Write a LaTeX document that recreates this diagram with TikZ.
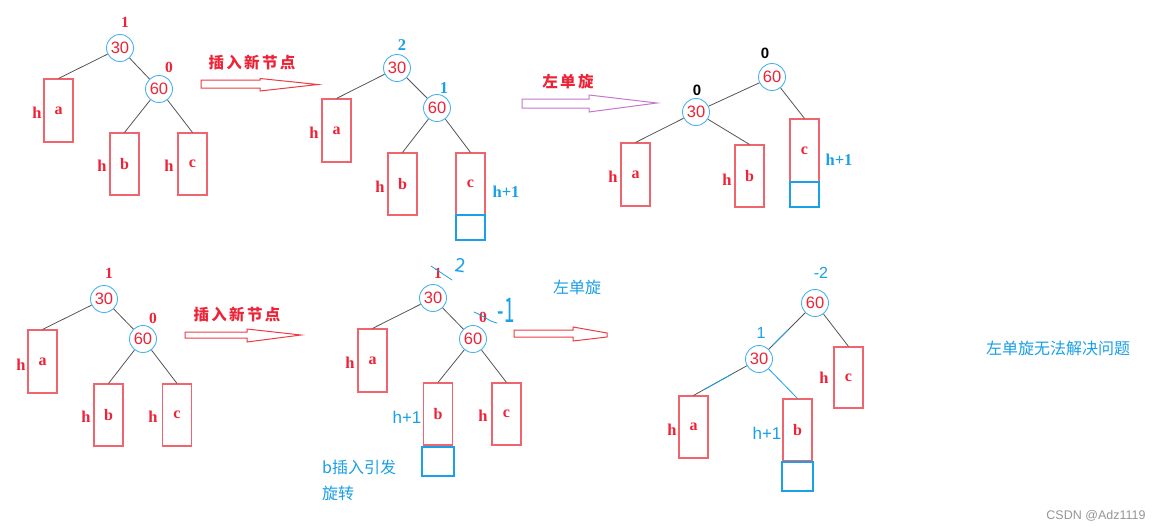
\documentclass[tikz,border=0pt]{standalone}
\usepackage{fontspec}
\usepackage{graphicx}
\setmainfont{Liberation Serif}
\setsansfont{Liberation Sans}
\newfontfamily\cjk{Noto Sans CJK SC}
\newfontfamily\cjksp[LetterSpace=15]{Noto Sans CJK SC}
\definecolor{tred}{RGB}{237,35,55}
\definecolor{boxred}{RGB}{240,100,110}
\definecolor{circblue}{RGB}{75,180,235}
\definecolor{tblue}{RGB}{25,160,230}
\definecolor{arrpurple}{RGB}{195,120,205}
\definecolor{arrred}{RGB}{235,60,70}
\definecolor{edgegray}{RGB}{85,85,85}
\definecolor{csdngray}{RGB}{150,150,150}
\begin{document}
\begin{tikzpicture}[x=1pt,y=-1pt,
  circ/.style={circle, draw=circblue, line width=0.9pt, minimum size=27pt, inner sep=0pt, text=tred, font=\sffamily\fontsize{16.5}{16.5}\selectfont},
  tb/.style={rectangle, draw=boxred, line width=1.1pt, minimum width=29pt, minimum height=62pt, inner sep=0pt, text=tred, font=\bfseries\fontsize{16}{16}\selectfont},
  nb/.style={rectangle, draw=tblue, line width=1.1pt, minimum width=29pt, minimum height=25pt, inner sep=0pt},
  hl/.style={text=tred, inner sep=0pt, font=\bfseries\fontsize{16.5}{16.5}\selectfont},
  hlb/.style={text=tblue, inner sep=0pt, font=\bfseries\fontsize{16.5}{16.5}\selectfont},
  hls/.style={text=tblue, inner sep=0pt, font=\sffamily\fontsize{17}{17}\selectfont},
  bal/.style={text=tred, inner sep=0pt, font=\bfseries\fontsize{15.5}{15.5}\selectfont},
  balk/.style={text=black, inner sep=0pt, font=\sffamily\bfseries\fontsize{15}{15}\selectfont},
  balb/.style={text=tblue, inner sep=0pt, font=\bfseries\fontsize{16.5}{16.5}\selectfont},
  bals/.style={text=tblue, inner sep=0pt, font=\sffamily\fontsize{16}{16}\selectfont},
  cjkred/.style={text=tred, inner sep=0pt, font=\cjksp\bfseries\fontsize{15.5}{15.5}\selectfont},
  cjkblue/.style={text=tblue, inner sep=0pt, font=\cjk\fontsize{16}{16}\selectfont},
  pentext/.style={text=tblue, inner sep=0pt, font=\cjk\fontsize{19}{19}\selectfont},
  pen/.style={draw=tblue, line width=0.8pt, line cap=round},
  edge/.style={draw=edgegray, line width=0.8pt},
  redarrow/.style={draw=arrred, line width=1pt, line join=miter},
  purarrow/.style={draw=arrpurple, line width=1pt, line join=miter}
]
\useasboundingbox[fill=white] (0,0) rectangle (1160,531);

% ---------- top left ----------
\node[circ] (tl30) at (120,48) {30};
\node[circ] (tl60) at (159,89) {60};
\node[bal] (tl30f) at (125,22) {1};
\node[bal] (tl60f) at (169,67) {0};
\node[tb, minimum height=63pt] (tla) at (58.5,110.5) {a};
\node[tb] (tlb) at (124.5,164) {b};
\node[tb] (tlc) at (192.5,164) {c};
\node[hl] (tlha) at (37,113) {h};
\node[hl] (tlhb) at (102,166) {h};
\node[hl] (tlhc) at (169,166) {h};
\draw[edge] (tl30) -- (tla.north);
\draw[edge] (tl30) -- (tl60);
\draw[edge] (tl60) -- (tlb.north);
\draw[edge] (tl60) -- (tlc.north);
\node[cjkred] (tlt) at (252,63) {插入新节点};
\draw[redarrow] (201,80) -- (260,80) -- (260,78.5) -- (318,84.5) -- (260,91) -- (260,88) -- (201,88) -- cycle;

% ---------- top middle ----------
\node[circ] (tm30) at (397,68) {30};
\node[circ] (tm60) at (437,108) {60};
\node[balb] (tm30f) at (402,45) {2};
\node[balb] (tm60f) at (444,88) {1};
\node[tb, minimum height=63pt] (tma) at (336.5,130.5) {a};
\node[tb] (tmb) at (402.5,184) {b};
\node[tb] (tmc) at (470.5,184) {c};
\node[nb] (tmx) at (470.5,227.5) {};
\node[hl] (tmha) at (314,133) {h};
\node[hl] (tmhb) at (380,187) {h};
\node[hlb] (tmhc) at (506,192) {h+1};
\draw[edge] (tm30) -- (tma.north);
\draw[edge] (tm30) -- (tm60);
\draw[edge] (tm60) -- (tmb.north);
\draw[edge] (tm60) -- (tmc.north);
\node[cjkred] (tmt) at (568,82) {左单旋};
\draw[purarrow] (522,99) -- (589,99) -- (589,95) -- (657,103) -- (589,112) -- (589,108) -- (522,108) -- cycle;

% ---------- top right ----------
\node[circ] (tr60) at (772,77) {60};
\node[circ] (tr30) at (696,112) {30};
\node[balk] (tr60f) at (765,53) {0};
\node[balk] (tr30f) at (697,90) {0};
\node[tb, minimum height=63pt] (tra) at (635.5,174.5) {a};
\node[tb] (trb) at (749.5,176) {b};
\node[tb, minimum height=63pt] (trc) at (804.5,150.5) {c};
\node[nb] (trx) at (804.5,194.5) {};
\node[hl] (trha) at (613,177) {h};
\node[hl] (trhb) at (727,180) {h};
\node[hlb] (trhc) at (839,160) {h+1};
\draw[edge] (tr60) -- (tr30);
\draw[edge] (tr60) -- (trc.north);
\draw[edge] (tr30) -- (tra.north);
\draw[edge] (tr30) -- (trb.north);

% ---------- bottom left ----------
\node[circ] (bl30) at (104,299) {30};
\node[circ] (bl60) at (143,339) {60};
\node[bal] (bl30f) at (109,273) {1};
\node[bal] (bl60f) at (153,318) {0};
\node[tb, minimum height=63pt] (bla) at (42.5,361.5) {a};
\node[tb] (blb) at (108.5,415) {b};
\node[tb] (blc) at (177,415) {c};
\node[hl] (blha) at (21,365) {h};
\node[hl] (blhb) at (86,417) {h};
\node[hl] (blhc) at (153,417) {h};
\draw[edge] (bl30) -- (bla.north);
\draw[edge] (bl30) -- (bl60);
\draw[edge] (bl60) -- (blb.north);
\draw[edge] (bl60) -- (blc.north);
\node[cjkred] (blt) at (237,315) {插入新节点};
\draw[redarrow] (185,332) -- (247,332) -- (247,329) -- (301,335) -- (247,342) -- (247,338) -- (185,338) -- cycle;

% ---------- bottom middle ----------
\node[circ] (bm30) at (433,298) {30};
\node[circ] (bm60) at (473,339) {60};
\node[bal] (bm30f) at (438,273) {1};
\node[bal] (bm60f) at (483,317) {0};
\node[tb, minimum height=63pt] (bma) at (372.5,360.5) {a};
\node[tb] (bmb) at (438,414) {b};
\node[tb] (bmc) at (506.5,414) {c};
\node[nb, minimum width=32pt, minimum height=29pt] (bmx) at (438,461.5) {};
\node[hl] (bmha) at (350,363) {h};
\node[hls] (bmhb) at (407,417) {h+1};
\node[hl] (bmhc) at (483,416) {h};
\draw[edge] (bm30) -- (bma.north);
\draw[edge] (bm30) -- (bm60);
\draw[edge] (bm60) -- (bmb.north);
\draw[edge] (bm60) -- (bmc.north);
\node[cjkblue] (bmt) at (577,287) {左单旋};
\draw[redarrow] (514,330) -- (573,330) -- (573,327) -- (607,333) -- (607,337) -- (573,341) -- (573,337) -- (514,337) -- cycle;
\node[cjkblue, anchor=west] (bmn1) at (322,467) {b插入引发};
\node[cjkblue, anchor=west] (bmn2) at (322,493) {旋转};
% handwritten corrections
\draw[pen] (431,266) -- (452,280);
\node[pentext, rotate=-8] (bms2) at (461,265) {2};
\draw[pen] (474,312) .. controls (484,316) and (490,322) .. (497,323);
\node[text=tblue, inner sep=0pt, font=\cjk\fontsize{34}{34}\selectfont] (bms1) at (506,310) {\scalebox{0.55}[1]{-1}};

% ---------- bottom right ----------
\node[circ] (br60) at (815,303) {60};
\node[circ] (br30) at (759,359) {30};
\node[bals] (br60f) at (821,273) {-2};
\node[bals] (br30f) at (761,333) {1};
\node[tb, minimum height=61pt] (brc) at (848.5,377.5) {c};
\node[tb] (bra) at (693.5,427) {a};
\node[tb] (brb) at (797.5,430) {b};
\node[nb, minimum width=31pt, minimum height=29pt] (brx) at (797.5,476.5) {};
\node[hl] (brhc) at (824,378) {h};
\node[hl] (brha) at (672,430) {h};
\node[hls] (brhb) at (767,433) {h+1};
\draw[edge] (br60) -- (br30);
\draw[pen, shorten <=24pt, shorten >=6pt] (br60) -- (br30);
\draw[edge] (br60) -- (brc.north);
\draw[edge] (br30) -- (bra.north);
\draw[pen, shorten <=18pt, shorten >=12pt] (br30) -- (bra.north);
\draw[pen] (br30) -- (brb.north);

% ---------- notes ----------
\node[cjkblue] (note) at (1058,348) {左单旋无法解决问题};
\node[text=csdngray, inner sep=0pt, font=\sffamily\fontsize{12.5}{12.5}\selectfont] (csdn) at (1096,516) {CSDN @Adz1119};
\end{tikzpicture}
\end{document}
